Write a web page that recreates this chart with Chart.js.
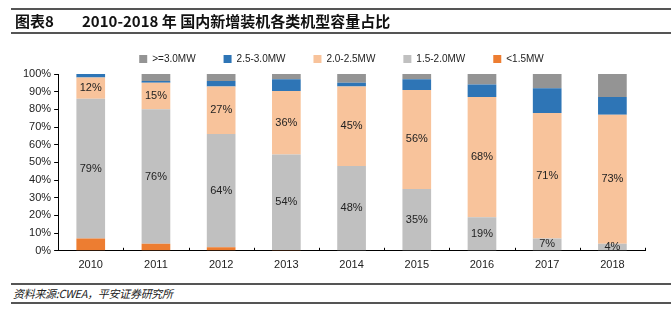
<!DOCTYPE html>
<html>
<head>
<meta charset="utf-8">
<script src="https://cdn.jsdelivr.net/npm/chart.js@4.4.1/dist/chart.umd.min.js"></script>
<style>
  html, body { margin: 0; padding: 0; background: #fff; }
  body { width: 671px; height: 323px; position: relative; overflow: hidden; font-family: "Liberation Sans", Arial, sans-serif; }
  .rule { position: absolute; left: 11px; right: 0; height: 2px; background: #555; z-index: 2; }
  #title { position: absolute; left: 15px; top: 12px; font-family: "Noto Sans CJK SC", sans-serif; font-weight: bold; font-size: 15px; color: #111; line-height: 18px; white-space: nowrap; z-index: 2; }
  #title .num { display: inline-block; width: 67px; }
  #source { position: absolute; left: 13px; top: 285px; font-family: "Noto Sans CJK SC", sans-serif; font-style: italic; font-size: 11px; letter-spacing: -0.3px; color: #222; line-height: 16px; white-space: nowrap; z-index: 2; }
  #wrap { position: absolute; left: 0; top: 26px; width: 671px; height: 246px; }
</style>
</head>
<body>
<div class="rule" style="top:8px"></div>
<div id="title"><span class="num">图表8</span>2010-2018 年 国内新增装机各类机型容量占比</div>
<div class="rule" style="top:32px"></div>
<div id="wrap"><canvas id="chart"></canvas></div>
<div class="rule" style="top:283px"></div>
<div id="source">资料来源:CWEA，平安证券研究所</div>
<div class="rule" style="top:302px"></div>
<script>
const years = ['2010', '2011', '2012', '2013', '2014', '2015', '2016', '2017', '2018'];
// share of newly installed capacity, %
const below15 = [7, 4, 2, 0.4, 0, 0, 0, 0, 0];
const from15to20 = [79, 76, 64, 54, 48, 35, 19, 7, 4];
const from20to25 = [12, 15, 27, 36, 45, 56, 68, 71, 73];
const from25to30 = [2, 1, 3, 6.6, 2, 6, 7, 14, 10];
const above30 = [0, 4, 4, 3, 5, 3, 6, 8, 13];
const yTicks = [0, 10, 20, 30, 40, 50, 60, 70, 80, 90, 100];

const labelled = ['1.5-2.0MW', '2.0-2.5MW'];

// nudge the legend a bit right, like the original
const legendShift = {
    id: 'legendShift',
    afterLayout(chart) {
        if (chart.legend) {
            chart.legend.left += 9;
            chart.legend.right += 9;
        }
    }
};

const segmentLabels = {
    id: 'segmentLabels',
    afterDatasetsDraw(chart) {
        const ctx = chart.ctx;
        ctx.save();
        ctx.font = '11px "Liberation Sans", Arial, sans-serif';
        ctx.fillStyle = '#222';
        ctx.textAlign = 'center';
        ctx.textBaseline = 'middle';
        chart.data.datasets.forEach((ds, i) => {
            if (!labelled.includes(ds.label)) return;
            chart.getDatasetMeta(i).data.forEach((bar, j) => {
                const v = ds.data[j];
                if (!v) return;
                ctx.fillText(Math.round(v) + '%', bar.x, (bar.y + bar.base) / 2);
            });
        });
        // small inward ticks between categories on the x axis
        const xs = chart.scales.x;
        const y0 = chart.chartArea.bottom;
        ctx.strokeStyle = '#000';
        ctx.lineWidth = 1;
        for (let k = 0; k <= years.length; k++) {
            const px = Math.round(xs.getPixelForValue(k - 0.5)) + 0.5;
            ctx.beginPath();
            ctx.moveTo(px, y0);
            ctx.lineTo(px, y0 - 3);
            ctx.stroke();
        }
        ctx.restore();
    }
};

new Chart(document.getElementById('chart'), {
    type: 'bar',
    data: {
        labels: years,
        datasets: [
            { label: '<1.5MW', data: below15, backgroundColor: '#ed7d31' },
            { label: '1.5-2.0MW', data: from15to20, backgroundColor: '#c0c0c0' },
            { label: '2.0-2.5MW', data: from20to25, backgroundColor: '#f8c39b' },
            { label: '2.5-3.0MW', data: from25to30, backgroundColor: '#2e75b6' },
            { label: '>=3.0MW', data: above30, backgroundColor: '#949494' }
        ]
    },
    options: {
        responsive: true,
        maintainAspectRatio: false,
        animation: false,
        datasets: { bar: { barPercentage: 0.44, categoryPercentage: 1 } },
        layout: { padding: { left: 20, right: 26, top: 0, bottom: 0 } },
        plugins: {
            legend: {
                reverse: true,
                labels: {
                    boxWidth: 8,
                    boxHeight: 8,
                    padding: 28,
                    color: '#222',
                    font: { size: 10, family: '"Liberation Sans", Arial, sans-serif' }
                }
            },
            tooltip: { enabled: false }
        },
        scales: {
            x: {
                stacked: true,
                border: { color: '#000' },
                grid: { display: false },
                ticks: { color: '#222', padding: 0, font: { size: 11, family: '"Liberation Sans", Arial, sans-serif' } }
            },
            y: {
                stacked: true,
                min: 0,
                max: 100,
                afterBuildTicks(axis) {
                    axis.ticks = yTicks.map(v => ({ value: v }));
                },
                border: { color: '#000' },
                grid: { drawOnChartArea: false, drawTicks: true, tickLength: 4, color: '#000' },
                ticks: {
                    color: '#222',
                    padding: 3,
                    font: { size: 11, family: '"Liberation Sans", Arial, sans-serif' },
                    callback: v => v + '%'
                }
            }
        }
    },
    plugins: [legendShift, segmentLabels]
});
</script>
</body>
</html>
